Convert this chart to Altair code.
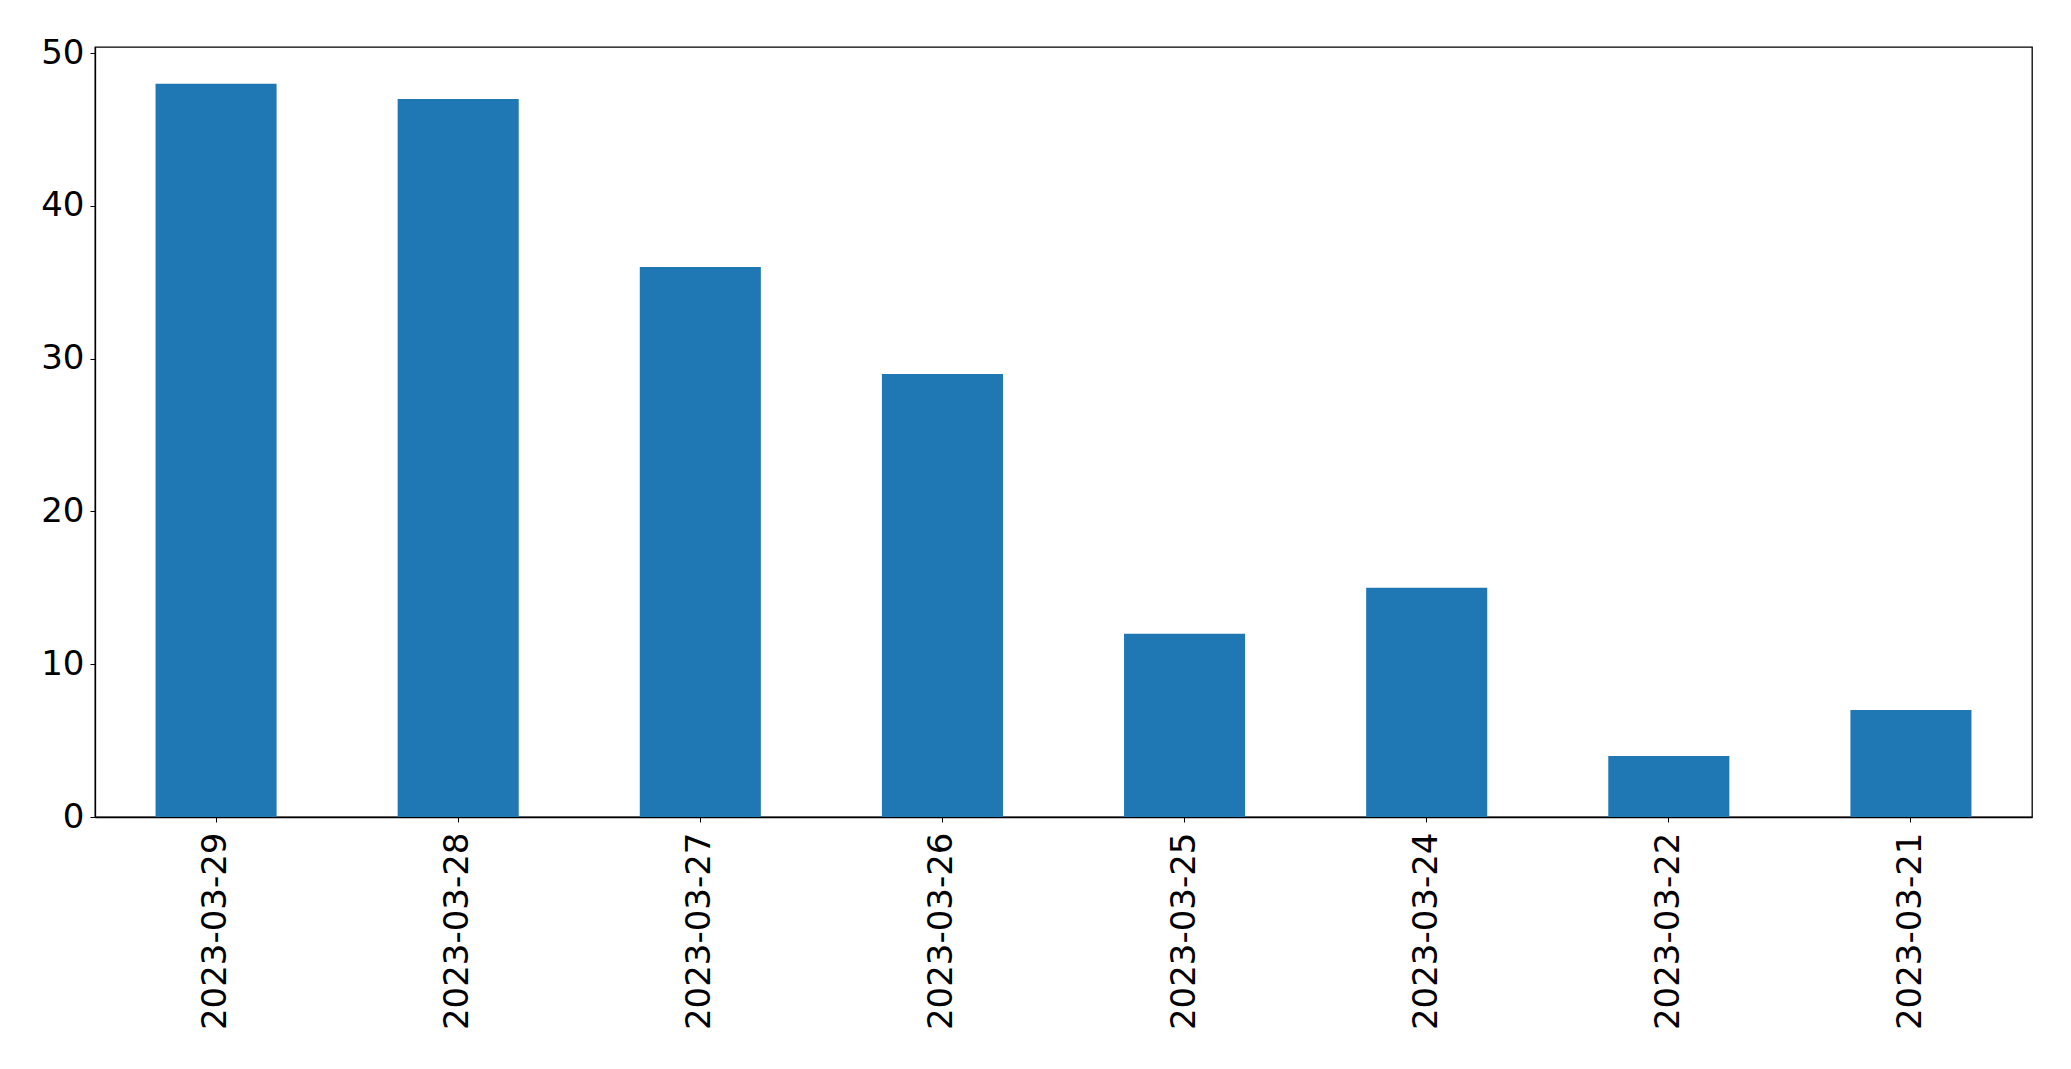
import altair as alt
import pandas as pd

dates = ["2023-03-29", "2023-03-28", "2023-03-27", "2023-03-26",
         "2023-03-25", "2023-03-24", "2023-03-22", "2023-03-21"]
counts = [48, 47, 36, 29, 12, 15, 4, 7]
y_ticks = [0, 10, 20, 30, 40, 50]

df = pd.DataFrame({"date": dates, "count": counts})

chart = alt.Chart(df).mark_bar(color="#1f77b4").encode(
    x=alt.X("date:N", sort=dates, title=None,
            scale=alt.Scale(paddingInner=0.5, paddingOuter=0.25),
            axis=alt.Axis(labelAngle=270, labelAlign="right", labelBaseline="middle",
                          labelFontSize=34, labelFont="DejaVu Sans", labelColor="black",
                          labelLimit=500,
                          tickColor="black", tickSize=5, labelPadding=10,
                          domainColor="black", domainWidth=1.3)),
    y=alt.Y("count:Q", title=None,
            scale=alt.Scale(domain=[0, 50.4], nice=False, zero=True),
            axis=alt.Axis(values=y_ticks, grid=False, labelFontSize=34,
                          labelFont="DejaVu Sans", labelColor="black",
                          tickColor="black", tickSize=5, labelPadding=6,
                          domainColor="black", domainWidth=1.3)),
).properties(
    width=1937, height=770,
    autosize=alt.AutoSizeParams(type="none"),
    padding={"left": 87, "top": 39, "right": 30, "bottom": 230},
).configure_view(
    stroke="black", strokeWidth=1.3
)

chart.save("out.html", embed_options={"renderer": "svg", "actions": False})
